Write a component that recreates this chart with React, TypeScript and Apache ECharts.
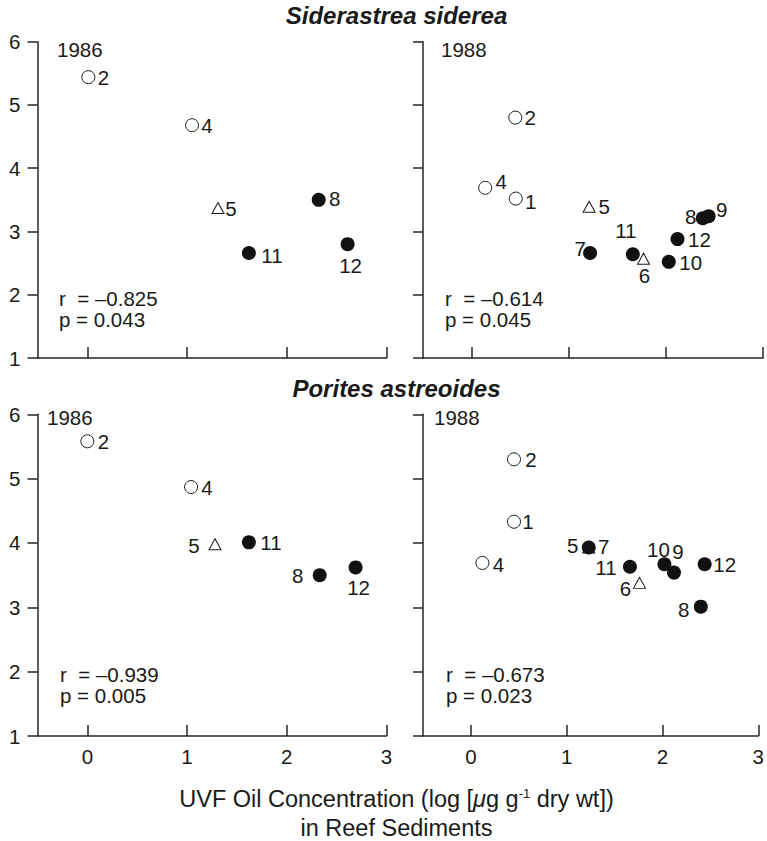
import React, { useEffect, useRef } from 'react';
import * as echarts from 'echarts';

// ---------- data ----------
const xTicks = [0, 1, 2, 3];
const yTicks = [1, 2, 3, 4, 5, 6];

// Siderastrea siderea, 1986
const ss86Sites = ['2', '4', '5', '8', '11', '12'];
const ss86Kind = ['open', 'open', 'tri', 'filled', 'filled', 'filled'];
const ss86Oil = [0.01, 1.05, 1.31, 2.32, 1.62, 2.61];
const ss86Growth = [5.44, 4.68, 3.37, 3.5, 2.66, 2.8];

// Siderastrea siderea, 1988
const ss88Sites = ['2', '4', '1', '5', '7', '11', '6', '10', '12', '8', '9'];
const ss88Kind = ['open', 'open', 'open', 'tri', 'filled', 'filled', 'tri', 'filled', 'filled', 'filled', 'filled'];
const ss88Oil = [0.45, 0.14, 0.455, 1.21, 1.22, 1.66, 1.77, 2.03, 2.12, 2.38, 2.44];
const ss88Growth = [4.8, 3.69, 3.52, 3.39, 2.66, 2.64, 2.57, 2.52, 2.88, 3.21, 3.24];

// Porites astreoides, 1986
const pa86Sites = ['2', '4', '5', '11', '8', '12'];
const pa86Kind = ['open', 'open', 'tri', 'filled', 'filled', 'filled'];
const pa86Oil = [0.0, 1.04, 1.28, 1.62, 2.33, 2.69];
const pa86Growth = [5.58, 4.87, 3.98, 4.01, 3.5, 3.62];

// Porites astreoides, 1988
const pa88Sites = ['2', '1', '4', '5', '7', '11', '6', '10', '9', '12', '8'];
const pa88Kind = ['open', 'open', 'open', 'tri', 'filled', 'filled', 'tri', 'filled', 'filled', 'filled', 'filled'];
const pa88Oil = [0.45, 0.45, 0.12, 1.23, 1.23, 1.66, 1.76, 2.02, 2.12, 2.44, 2.4];
const pa88Growth = [5.3, 4.33, 3.69, 3.93, 3.93, 3.63, 3.38, 3.67, 3.54, 3.67, 3.01];

const years = ['1986', '1988', '1986', '1988'];
const rValues = ['–0.825', '–0.614', '–0.939', '–0.673'];
const pValues = ['0.043', '0.045', '0.005', '0.023'];
const speciesTitles = ['Siderastrea siderea', 'Porites astreoides'];

// ---------- layout (label offsets from marker centre, px) ----------
const ss86LabelOffsets = [[15, 0], [15, 0], [13, 0], [16, -1], [23, 3], [3, 21]];
const ss88LabelOffsets = [[15, 0], [16, -6], [15, 3], [15, 0], [-10, -4], [-7, -24], [1, 17], [22, 1], [22, 0], [-12, -2], [13, -7]];
const pa86LabelOffsets = [[16, 0], [16, 0], [-21, 1], [22, 0], [-22, 0], [3, 20]];
const pa88LabelOffsets = [[17, 0], [14, 0], [16, 2], [-16, -2], [15, -1], [-24, 1], [-14, 6], [-6, -15], [4, -21], [20, 0], [-17, 3]];

const FONT = "'Liberation Sans', Arial, Helvetica, sans-serif";
const AXIS_COLOR = '#262626';
const TEXT_COLOR = '#1a1a1a';
const FS = 20.5;

const panels = [
  { sites: ss86Sites, kind: ss86Kind, x: ss86Oil, y: ss86Growth, offs: ss86LabelOffsets,
    rect: [37.5, 41.7, 349, 316.3], showY: true, showX: false, yearPos: [57, 49.5], statsPos: [59, 298] },
  { sites: ss88Sites, kind: ss88Kind, x: ss88Oil, y: ss88Growth, offs: ss88LabelOffsets,
    rect: [423, 41.7, 340, 316.3], showY: false, showX: false, yearPos: [441, 49.5], statsPos: [445, 298] },
  { sites: pa86Sites, kind: pa86Kind, x: pa86Oil, y: pa86Growth, offs: pa86LabelOffsets,
    rect: [37.5, 414.3, 349, 321.7], showY: true, showX: true, yearPos: [47, 417], statsPos: [60, 674] },
  { sites: pa88Sites, kind: pa88Kind, x: pa88Oil, y: pa88Growth, offs: pa88LabelOffsets,
    rect: [423, 414.3, 340, 321.7], showY: false, showX: true, yearPos: [434, 417], statsPos: [446, 674] },
];

function symbolFor(kind: string) {
  if (kind === 'tri') {
    return { symbol: 'triangle', symbolSize: [12, 11], itemStyle: { color: '#ffffff', borderColor: '#1a1a1a', borderWidth: 1, opacity: 1 } };
  }
  if (kind === 'open') {
    return { symbol: 'circle', symbolSize: 13, itemStyle: { color: '#ffffff', borderColor: '#1a1a1a', borderWidth: 1, opacity: 1 } };
  }
  return { symbol: 'circle', symbolSize: 14, itemStyle: { color: '#111111', borderWidth: 0, opacity: 1 } };
}

function text(x: number, y: number, t: string, extra: any = {}) {
  return {
    type: 'text', x, y, silent: true,
    style: { text: t, fill: TEXT_COLOR, fontSize: FS, fontFamily: FONT, align: 'left', verticalAlign: 'middle', ...extra },
  };
}

function buildOption() {
  const grid = panels.map((p) => ({ left: p.rect[0], top: p.rect[1], width: p.rect[2], height: p.rect[3] }));
  const xAxis = panels.map((p, i) => ({
    type: 'value', gridIndex: i, min: -0.5, max: 3,
    axisLine: { show: true, onZero: false, lineStyle: { color: AXIS_COLOR, width: 1.5 } },
    axisTick: { show: true, inside: true, length: 11, customValues: xTicks, lineStyle: { color: AXIS_COLOR, width: 1.5 } },
    axisLabel: { show: p.showX, customValues: xTicks, margin: 10, color: TEXT_COLOR, fontSize: FS, fontFamily: FONT },
    splitLine: { show: false },
  }));
  const yAxis = panels.map((p, i) => ({
    type: 'value', gridIndex: i, min: 1, max: 6, interval: 1,
    axisLine: { show: true, onZero: false, lineStyle: { color: AXIS_COLOR, width: 1.5 } },
    axisTick: { show: true, inside: false, length: 10, customValues: yTicks, lineStyle: { color: AXIS_COLOR, width: 1.5 } },
    axisLabel: { show: p.showY, customValues: yTicks, margin: 17, color: TEXT_COLOR, fontSize: FS, fontFamily: FONT },
    splitLine: { show: false },
  }));
  const series = panels.map((p, i) => ({
    type: 'scatter', xAxisIndex: i, yAxisIndex: i, silent: true,
    emphasis: { disabled: true },
    data: p.sites.map((s, j) => ({
      value: [p.x[j], p.y[j]], name: s,
      ...symbolFor(p.kind[j]),
      label: {
        show: true, position: 'inside', offset: p.offs[j], formatter: '{b}',
        color: TEXT_COLOR, fontSize: FS, fontFamily: FONT, lineHeight: 17, textBorderWidth: 0, opacity: 1,
      },
    })),
  }));

  const graphic: any[] = [];
  graphic.push(text(396.5, 15, speciesTitles[0], { align: 'center', fontSize: 24, fontWeight: 'bold', fontStyle: 'italic' }));
  graphic.push(text(396.5, 388, speciesTitles[1], { align: 'center', fontSize: 24, fontWeight: 'bold', fontStyle: 'italic' }));
  panels.forEach((p, i) => {
    graphic.push(text(p.yearPos[0], p.yearPos[1], years[i]));
    graphic.push(text(p.statsPos[0], p.statsPos[1], 'r  = ' + rValues[i]));
    graphic.push(text(p.statsPos[0], p.statsPos[1] + 21, 'p = ' + pValues[i]));
  });
  const AX = 23.5;
  graphic.push({
    type: 'text', x: 396.5, y: 799, silent: true,
    style: {
      text: 'UVF Oil Concentration (log [{i|μ}g g{s|-1} dry wt])',
      fill: TEXT_COLOR, fontSize: AX, fontFamily: FONT, align: 'center', verticalAlign: 'middle',
      rich: {
        i: { fontStyle: 'italic', fontSize: AX, fontFamily: FONT, fill: TEXT_COLOR },
        s: { fontSize: 13, fontFamily: FONT, fill: TEXT_COLOR, verticalAlign: 'top' },
      },
    },
  });
  graphic.push(text(396.5, 828, 'in Reef Sediments', { align: 'center', fontSize: AX }));

  return { animation: false, backgroundColor: '#ffffff', grid, xAxis, yAxis, series, graphic };
}

export default function App() {
  const ref = useRef<HTMLDivElement>(null);
  useEffect(() => {
    if (!ref.current) return;
    const chart = echarts.init(ref.current, null, { renderer: 'svg' });
    chart.setOption(buildOption() as any);
    return () => chart.dispose();
  }, []);
  return <div ref={ref} style={{ position: 'absolute', left: 0, top: 0, width: 767, height: 841 }} />;
}
